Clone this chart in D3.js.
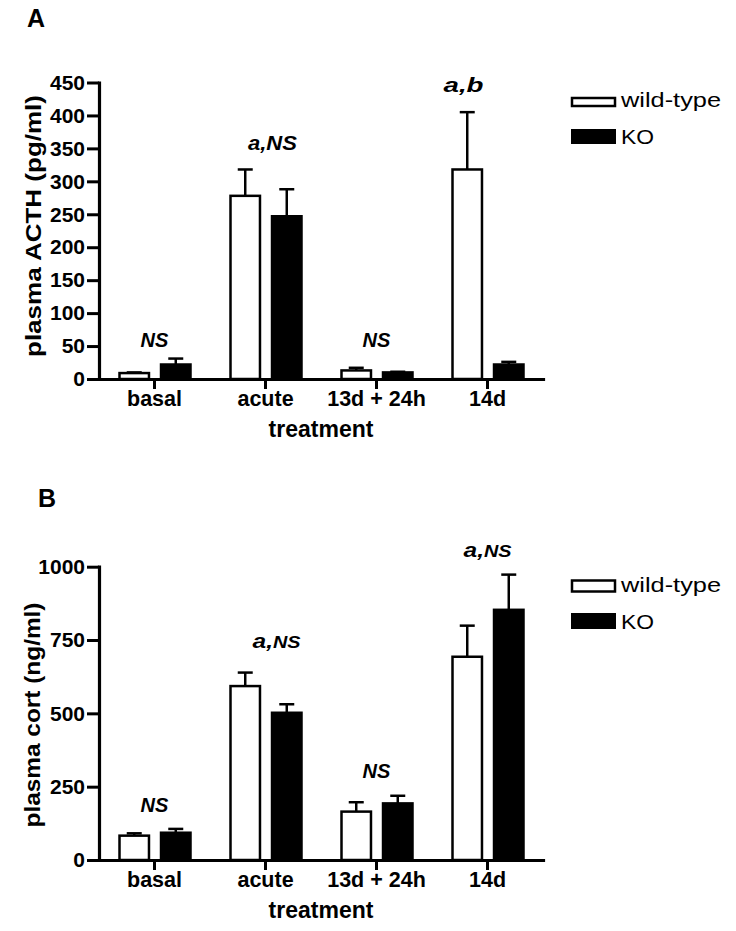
<!DOCTYPE html>
<html>
<head>
<meta charset="utf-8">
<script src="https://cdn.jsdelivr.net/npm/d3@7"></script>
<style>
  html, body { margin: 0; padding: 0; background: #fff; }
  svg { display: block; }
  text { font-family: "Liberation Sans", Arial, Helvetica, sans-serif; fill: #000; }
</style>
</head>
<body>
<svg id="chart" width="736" height="931"></svg>
<script>
// ---------- data ----------
const categories = ["basal", "acute", "13d + 24h", "14d"];
const series = ["wild-type", "KO"];

// Panel A: plasma ACTH (pg/ml)
const acthWT    = [9, 278, 13, 318];
const acthWTerr = [1, 40, 4, 87];
const acthKO    = [22, 247, 10, 22];
const acthKOerr = [9, 41, 1, 4];
const acthTicks = [0, 50, 100, 150, 200, 250, 300, 350, 400, 450];
const acthNotes = [
  { cat: "basal", text: "NS", at: 49 },
  { cat: "acute", text: "a,NS", at: 347 },
  { cat: "13d + 24h", text: "NS", at: 49 },
  { cat: "14d", text: "a,b", at: 436 }
];

// Panel B: plasma cort (ng/ml)
const cortWT    = [83, 593, 165, 693];
const cortWTerr = [8, 46, 32, 106];
const cortKO    = [93, 502, 193, 853];
const cortKOerr = [13, 29, 26, 120];
const cortTicks = [0, 250, 500, 750, 1000];
const cortNotes = [
  { cat: "basal", text: "NS", at: 164 },
  { cat: "acute", text: "a,NS", at: 723 },
  { cat: "13d + 24h", text: "NS", at: 280 },
  { cat: "14d", text: "a,NS", at: 1033 }
];

// ---------- drawing ----------
const svg = d3.select("#chart");
svg.append("rect").attr("width", 736).attr("height", 931).attr("fill", "#fff");

function panel(cfg) {
  const g = svg.append("g");
  const x = d3.scaleBand().domain(categories).range([99, 543]).padding(0);
  const xs = d3.scaleBand().domain(series).range([-35, 36]).paddingInner(0.29);
  const y = d3.scaleLinear().domain([0, cfg.max]).range([cfg.y0, cfg.y1]);

  // panel letter
  g.append("text").attr("x", cfg.letterX).attr("y", cfg.letterY)
    .attr("font-size", 25).attr("font-weight", "bold").text(cfg.letter);

  // bars
  const rows = categories.map((c, i) => ({
    cat: c,
    vals: [
      { s: "wild-type", v: cfg.wt[i], e: cfg.wtErr[i] },
      { s: "KO", v: cfg.ko[i], e: cfg.koErr[i] }
    ]
  }));
  const grp = g.selectAll(".cat").data(rows).join("g")
    .attr("transform", d => `translate(${x(d.cat) + x.bandwidth() / 2},0)`);

  // error bars (upward only)
  grp.selectAll(".err").data(d => d.vals).join("g").each(function (d) {
    const cx = xs(d.s) + xs.bandwidth() / 2;
    const s = d3.select(this);
    s.append("line").attr("x1", cx).attr("x2", cx)
      .attr("y1", y(d.v)).attr("y2", y(d.v + d.e))
      .attr("stroke", "#000").attr("stroke-width", 2.5);
    s.append("line").attr("x1", cx - 7.5).attr("x2", cx + 7.5)
      .attr("y1", y(d.v + d.e)).attr("y2", y(d.v + d.e))
      .attr("stroke", "#000").attr("stroke-width", 2.5);
  });

  grp.selectAll("rect").data(d => d.vals).join("rect")
    .attr("x", d => xs(d.s))
    .attr("width", xs.bandwidth())
    .attr("y", d => y(d.v))
    .attr("height", d => y(0) - y(d.v))
    .attr("fill", d => d.s === "KO" ? "#000" : "#fff")
    .attr("stroke", "#000").attr("stroke-width", 2.5);

  // axes
  const ya = g.append("g").attr("transform", "translate(99,0)")
    .call(d3.axisLeft(y).tickValues(cfg.ticks).tickFormat(d3.format("d"))
      .tickSize(12).tickSizeOuter(0).tickPadding(2));
  const xa = g.append("g").attr("transform", `translate(0,${cfg.y0})`)
    .call(d3.axisBottom(x).tickSize(10).tickSizeOuter(0).tickPadding(2));
  [ya, xa].forEach(a => {
    a.select(".domain").attr("stroke", "#000").attr("stroke-width", 3.2).attr("stroke-linecap", "square");
    a.selectAll(".tick line").attr("stroke", "#000").attr("stroke-width", 3);
    a.selectAll(".tick text").attr("fill", "#000")
      .style("font-family", "'Liberation Sans', Arial, sans-serif")
      .attr("font-weight", "bold");
  });
  ya.selectAll(".tick text").attr("font-size", 21);
  xa.selectAll(".tick text").attr("font-size", 21.5);

  // axis titles
  g.append("text").attr("x", 321).attr("y", cfg.y0 + 58)
    .attr("text-anchor", "middle").attr("font-size", 23).attr("font-weight", "bold")
    .text("treatment");
  g.append("text")
    .attr("transform", `translate(${cfg.ylabX},${cfg.ylabY}) rotate(-90)`)
    .attr("text-anchor", "middle").attr("font-size", 21.5).attr("font-weight", "bold")
    .attr("textLength", cfg.ylabLen).attr("lengthAdjust", "spacingAndGlyphs")
    .text(cfg.ylab);

  // annotations
  cfg.notes.forEach(n => {
    const cx = x(n.cat) + x.bandwidth() / 2 + (n.dx || 0);
    const t = g.append("text").attr("x", cx).attr("y", y(n.at))
      .attr("text-anchor", "middle").attr("font-weight", "bold").attr("font-style", "italic");
    if (n.text === "NS") {
      t.attr("font-size", 20).text("NS");
    } else {
      const parts = n.text.split(",");
      t.attr("font-size", 21);
      t.append("tspan").text(parts[0] + ",");
      t.append("tspan").attr("font-size", parts[1] === "NS" ? cfg.nsSmall : 21).text(parts[1]);
      if (n.len) t.attr("textLength", n.len).attr("lengthAdjust", "spacingAndGlyphs");
    }
  });

  // legend
  const L = cfg.legend;
  g.append("rect").attr("x", 572).attr("y", L.wy).attr("width", 43).attr("height", L.wh)
    .attr("fill", "#fff").attr("stroke", "#000").attr("stroke-width", 2.5);
  g.append("rect").attr("x", 571).attr("y", L.ky).attr("width", 45).attr("height", L.kh)
    .attr("fill", "#000");
  g.append("text").attr("x", 621).attr("y", L.wb).attr("font-size", 21)
    .attr("textLength", 100).attr("lengthAdjust", "spacingAndGlyphs").text(series[0]);
  g.append("text").attr("x", 621).attr("y", L.kb).attr("font-size", 21)
    .attr("textLength", 33).attr("lengthAdjust", "spacingAndGlyphs").text(series[1]);
}

acthNotes[1].dx = 7; acthNotes[1].len = 49;
acthNotes[3].dx = -24; acthNotes[3].len = 40;
cortNotes[1].dx = 11; cortNotes[1].len = 48;
cortNotes[3].len = 48;

panel({
  letter: "A", letterX: 27, letterY: 27,
  max: 450, y0: 379, y1: 82.5, ticks: acthTicks,
  wt: acthWT, wtErr: acthWTerr, ko: acthKO, koErr: acthKOerr,
  ylab: "plasma  ACTH  (pg/ml)", ylabX: 41, ylabY: 226, ylabLen: 262,
  notes: acthNotes, nsSmall: 21,
  legend: { wy: 98, wh: 8, ky: 129, kh: 15, wb: 107, kb: 144 }
});

panel({
  letter: "B", letterX: 38, letterY: 507,
  max: 1000, y0: 860, y1: 566.7, ticks: cortTicks,
  wt: cortWT, wtErr: cortWTerr, ko: cortKO, koErr: cortKOerr,
  ylab: "plasma cort (ng/ml)", ylabX: 40, ylabY: 715, ylabLen: 225,
  notes: cortNotes, nsSmall: 17,
  legend: { wy: 580.5, wh: 11, ky: 613, kh: 16, wb: 592, kb: 629 }
});
</script>
</body>
</html>
